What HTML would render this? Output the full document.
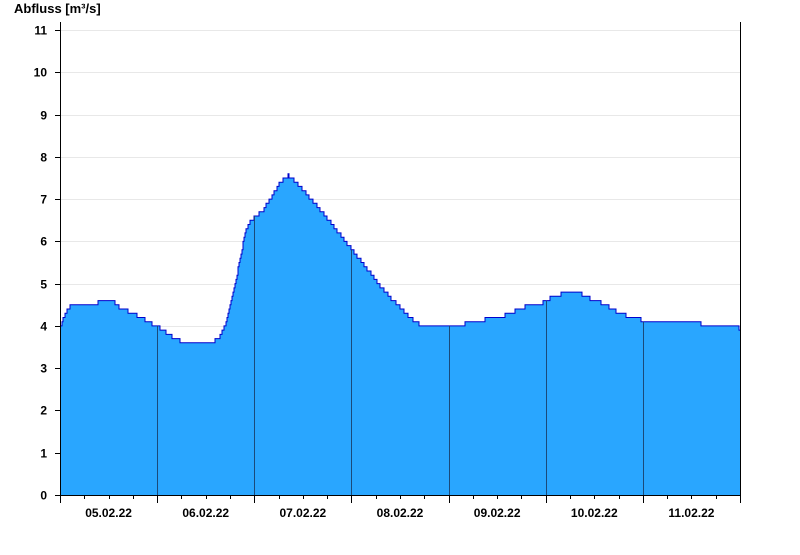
<!DOCTYPE html>
<html><head><meta charset="utf-8"><style>
body{margin:0;background:#fff;width:800px;height:550px;overflow:hidden;font-family:"Liberation Sans",Arial,sans-serif}
</style></head><body>
<svg id="s" width="800" height="550" xmlns="http://www.w3.org/2000/svg" font-family="Liberation Sans, Arial, sans-serif" font-weight="bold" font-size="12">
<text x="14" y="13" font-size="13">Abfluss [m³/s]</text>
<g id="grid"></g>
<path id="area" fill="#29a6ff" stroke="none"/>
<path id="line" fill="none" stroke="#0000cc" stroke-width="1"/>
<g id="days"></g>
<line x1="60.5" y1="22" x2="60.5" y2="495" stroke="#000"/>
<line x1="740.5" y1="22" x2="740.5" y2="495" stroke="#000"/>
<line x1="55" y1="495.5" x2="741" y2="495.5" stroke="#000"/>
<g id="ticks"></g>
</svg>
<script>
var NS="http://www.w3.org/2000/svg";
function el(p,t,a,txt){var e=document.createElementNS(NS,t);for(var k in a)e.setAttribute(k,a[k]);if(txt!=null)e.textContent=txt;document.getElementById(p).appendChild(e);}
function Y(v){return 495-v*42.27;}
var P=[[60,3.95],[63,4.2],[67,4.35],[71,4.5],[97,4.5],[98,4.6],[114,4.6],[115,4.5],[122,4.4],[132,4.3],[140,4.2],[148,4.1],[155,4.0],[163,3.9],[168,3.8],[175,3.7],[179,3.65],[196,3.55],[210,3.55],[215,3.65],[220,3.75],[225,4.0],[230,4.5],[235,5.0],[240,5.6],[245,6.2],[250,6.45],[255,6.6],[262,6.7],[270,7.0],[280,7.4],[288,7.55],[293,7.45],[300,7.3],[310,7.0],[318,6.8],[325,6.6],[335,6.3],[345,6.0],[355,5.7],[365,5.4],[375,5.1],[385,4.8],[395,4.55],[405,4.3],[415,4.1],[425,3.95],[460,3.95],[465,4.05],[480,4.05],[485,4.15],[500,4.15],[505,4.25],[515,4.35],[525,4.45],[540,4.5],[545,4.6],[555,4.7],[567,4.8],[580,4.8],[583,4.7],[595,4.6],[605,4.5],[615,4.35],[625,4.25],[640,4.15],[660,4.1],[700,4.05],[738,4.0],[740,3.85]];
function V(x){var j=0;while(j<P.length-2&&P[j+1][0]<x)j++;
 var a=P[j],b=P[j+1],t=(x-a[0])/(b[0]-a[0]);t=Math.max(0,Math.min(1,t));
 return Math.round((a[1]+(b[1]-a[1])*t)*10)/10;}
for(var i=0;i<=11;i++){var y=Math.round(Y(i))+0.5;
 if(i>0)el('grid','line',{x1:61,y1:y,x2:740,y2:y,stroke:'#e8e8e8'});
 el('ticks','line',{x1:55,y1:y,x2:60,y2:y,stroke:'#000'});
 el('ticks','text',{x:47,y:y+4,'text-anchor':'end'},String(i));}
var dw=680/7,lab=['05.02.22','06.02.22','07.02.22','08.02.22','09.02.22','10.02.22','11.02.22'];
for(var d=0;d<=7;d++){var xr=Math.round(60+d*dw),x=xr+0.5;
 el('ticks','line',{x1:x,y1:495,x2:x,y2:503,stroke:'#000'});
 if(d>0&&d<7)el('days','line',{x1:x,y1:495,x2:x,y2:Y(V(xr)),stroke:'#1a4a7a','stroke-width':1});
 if(d<7){for(var q=1;q<4;q++){var xm=Math.round(60+d*dw+q*dw/4)+0.5;el('ticks','line',{x1:xm,y1:495,x2:xm,y2:499,stroke:'#000'});}
 el('ticks','text',{x:60+d*dw+dw/2,y:517,'text-anchor':'middle'},lab[d]);}}
var d1="";
for(var x=60;x<=740;x++){var y=Y(V(x)).toFixed(1);
 d1+=(x==60?"M":"L")+x+","+y+(x<740?" L"+(x+1)+","+y:"")+" ";}
document.getElementById('line').setAttribute('d',d1);
document.getElementById('area').setAttribute('d',d1+"L740,495 L60,495 Z");
</script>
</body></html>
